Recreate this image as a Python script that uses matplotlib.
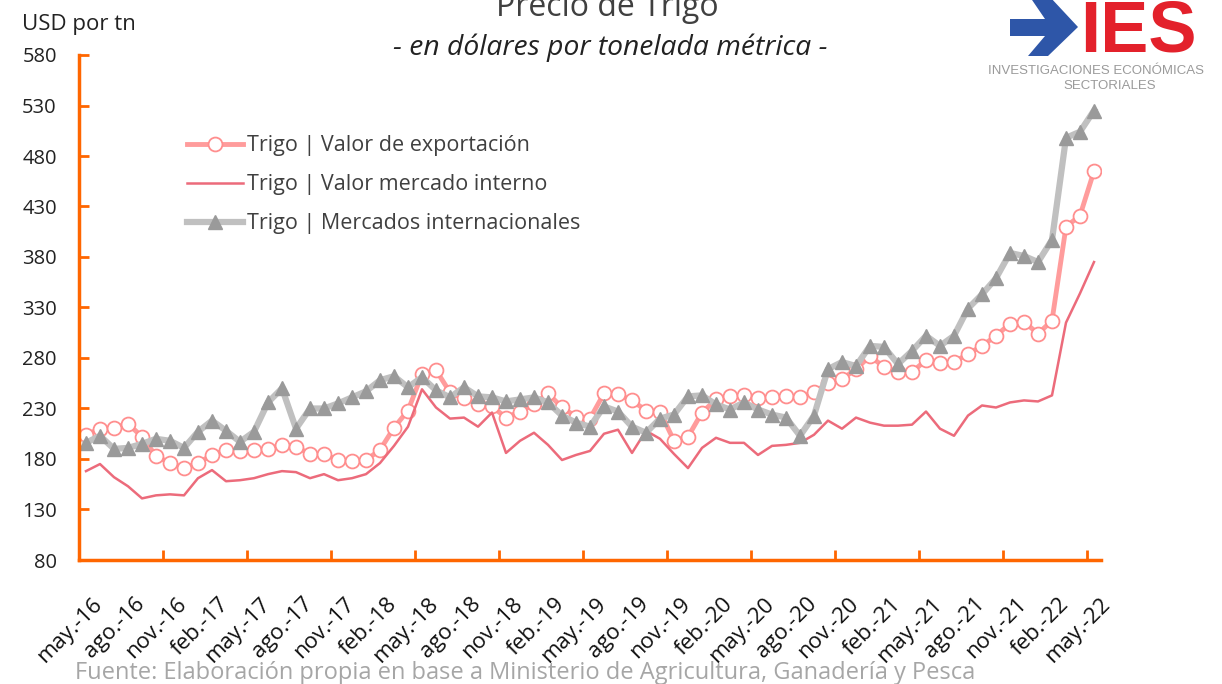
import numpy as np
import matplotlib.pyplot as plt
from matplotlib.patches import Polygon
import matplotlib.transforms as mtransforms

plt.rcParams['font.family'] = ['Open Sans', 'DejaVu Sans']

# USD por tonelada, mensual may-16 .. may-22
exportacion = [204, 210, 211, 215, 202, 183, 176, 171, 176, 184, 189, 188,
               189, 190, 194, 192, 185, 185, 179, 178, 179, 189, 211, 228,
               264, 268, 246, 240, 234, 232, 221, 227, 234, 245, 231, 222,
               220, 245, 244, 238, 228, 227, 198, 202, 226, 239, 242, 243,
               240, 241, 242, 241, 246, 255, 259, 269, 282, 271, 266, 266,
               278, 275, 276, 284, 292, 302, 314, 316, 304, 317, 410, 421,
               465]
interno = [168, 175, 162, 153, 141, 144, 145, 144, 161, 169, 158, 159,
           161, 165, 168, 167, 161, 165, 159, 161, 165, 176, 193, 212,
           249, 231, 220, 221, 212, 226, 186, 198, 206, 194, 179, 184,
           188, 205, 209, 186, 208, 200, 185, 171, 191, 201, 196, 196,
           184, 193, 194, 196, 204, 218, 210, 221, 216, 213, 213, 214,
           227, 210, 203, 223, 233, 231, 236, 238, 237, 243, 315, 344,
           375]
internacional = [196, 203, 190, 191, 195, 200, 198, 191, 207, 218, 208, 197,
                 207, 236, 250, 210, 230, 230, 235, 241, 247, 258, 262, 251,
                 261, 248, 241, 251, 242, 241, 237, 239, 241, 236, 223, 216,
                 212, 232, 227, 212, 206, 220, 224, 242, 243, 234, 229, 236,
                 229, 224, 221, 203, 223, 269, 276, 272, 292, 291, 274, 287,
                 302, 292, 302, 329, 343, 359, 384, 381, 375, 397, 498, 504,
                 525]
etiquetas = ['may.-16', 'ago.-16', 'nov.-16', 'feb.-17', 'may.-17', 'ago.-17',
             'nov.-17', 'feb.-18', 'may.-18', 'ago.-18', 'nov.-18', 'feb.-19',
             'may.-19', 'ago.-19', 'nov.-19', 'feb.-20', 'may.-20', 'ago.-20',
             'nov.-20', 'feb.-21', 'may.-21', 'ago.-21', 'nov.-21', 'feb.-22',
             'may.-22']

naranja = '#FF6600'
texto = '#404040'
meses = np.arange(len(exportacion))

fig = plt.figure(figsize=(12.22, 6.84), dpi=100)
ax = fig.add_axes([79/1222, 1-560/684, 1022/1222, 505/684])

ax.plot(meses, exportacion, color='#FF9C9C', lw=3.5, marker='o', ms=10,
        mfc='white', mec='#FF8E8E', mew=1.3, label='Trigo | Valor de exportación')
ax.plot(meses, interno, color='#EC6B7B', lw=1.8, label='Trigo | Valor mercado interno')
ax.plot(meses, internacional, color='#C0C0C0', lw=4.5, marker='^', ms=10,
        mfc='#9A9A9A', mec='#9A9A9A', label='Trigo | Mercados internacionales')

ax.set_xlim(-0.5, 72.5)
ax.set_ylim(80, 580)
ax.set_yticks(np.arange(80, 581, 50))
ax.set_xticks(meses[::3])
ax.set_xticklabels(etiquetas, rotation=45, ha='right', va='top',
                   rotation_mode='anchor', fontsize=16, color='#111111')
ax.set_xticks(np.arange(5.5, 72, 6), minor=True)
ax.tick_params(axis='x', which='major', length=0, pad=24)
ax.tick_params(axis='x', which='minor', direction='in', length=7, width=2, color=naranja)
ax.tick_params(axis='y', direction='in', length=7, width=2, color=naranja,
               labelsize=14.5, labelcolor='#222222', pad=16)
desplaza = mtransforms.ScaledTranslation(6/100, 0, fig.dpi_scale_trans)
for lab in ax.get_xticklabels():
    lab.set_transform(lab.get_transform() + desplaza)

for s in ['top', 'right']:
    ax.spines[s].set_visible(False)
for s in ['left', 'bottom']:
    ax.spines[s].set_color(naranja)
    ax.spines[s].set_linewidth(2.5)

ax.legend(loc='upper left', bbox_to_anchor=(0.097, 0.858), borderaxespad=0,
          frameon=False, fontsize=15.5, handlelength=2.6, labelspacing=0.83,
          handletextpad=0.2, labelcolor=texto)

fig.text(0.497, 1-16/684, 'Precio de Trigo', ha='center', va='baseline',
         fontsize=23, color=texto)
fig.text(0.499, 1-55/684, '- en dólares por tonelada métrica -', ha='center',
         va='baseline', fontsize=20.3, style='italic', color='#222222')
fig.text(22/1222, 1-30/684, 'USD por tn', va='baseline', fontsize=16, color='#222222')
fig.text(75/1222, 1-679/684, 'Fuente: Elaboración propia en base a Ministerio de '
         'Agricultura, Ganadería y Pesca', va='baseline', fontsize=17,
         color='#A6A6A6')

# logo IES
flecha = [(1010, 19), (1045, 19), (1030, -3), (1050, -3), (1078, 27),
          (1048, 56), (1028, 56), (1045, 36), (1010, 36)]
flecha = [(x/1222, 1-y/684) for x, y in flecha]
fig.patches.append(Polygon(flecha, closed=True, transform=fig.transFigure,
                           facecolor='#2E56A8', edgecolor='none'))
fig.text(1080/1222, 1-51/684, 'IES', fontsize=52, fontweight='bold',
         family='Liberation Sans', color='#E3212B', va='baseline')
fig.text(988/1222, 1-71/684, 'INVESTIGACIONES ECONÓMICAS', fontsize=9.5,
         family='Liberation Sans', color='#9A9A9A', va='center')
fig.text(1110/1222, 1-86/684, 'SECTORIALES', fontsize=9.5, ha='center',
         family='Liberation Sans', color='#9A9A9A', va='center')

fig.savefig('out.png', dpi=100)
